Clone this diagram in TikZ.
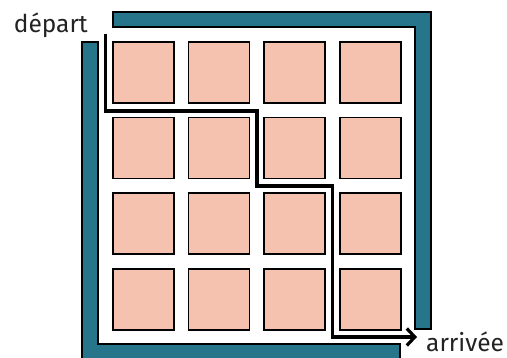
\documentclass[tikz,border=0pt]{standalone}
\usepackage{fontspec}
\setmainfont{Fira Sans}
\usetikzlibrary{arrows.meta}
\definecolor{wallc}{HTML}{27758A}
\definecolor{cellc}{HTML}{F4C2AE}
\definecolor{txtc}{HTML}{222222}
\begin{document}
\begin{tikzpicture}[x=1pt,y=-1pt,
  wall/.style={fill=wallc,draw=black,line width=1.6pt},
  cell/.style={fill=cellc,draw=black,line width=1.6pt,minimum width=61pt,minimum height=61pt,inner sep=0pt,outer sep=0pt},
  route/.style={draw=black,line width=3.4pt,line join=miter},
  lbl/.style={font=\fontsize{24.5}{28}\selectfont,text=txtc,inner sep=0pt}]
\useasboundingbox (0,0) rectangle (507,358);
\clip (0,0) rectangle (507,358);
% walls
\draw[wall] (113,12) -- (431,12) -- (431,329) -- (415,329) -- (415,27) -- (113,27) -- cycle;
\draw[wall] (82,42) -- (98,42) -- (98,344) -- (400,344) -- (400,365) -- (82,365) -- cycle;
% cells
\foreach \i in {0,...,3}{
  \foreach \j in {0,...,3}{
    \node[cell,anchor=north west] (c\i\j) at ({113+75.6*\i},{42+75.6*\j}) {};
  }
}
% route
\coordinate (s) at (105.5,34);
\coordinate (p1) at (105.5,111);
\coordinate (p2) at (256.8,111);
\coordinate (p3) at (256.8,186);
\coordinate (p4) at (332.4,186);
\coordinate (p5) at (332.4,337);
\coordinate (e) at (417,337);
\draw[route,-{Straight Barb[length=8pt,width=17pt,line width=3.2pt]}] (s) -- (p1) -- (p2) -- (p3) -- (p4) -- (p5) -- (e);
% labels
\node[lbl,anchor=base east] (dep) at (88,33) {départ};
\node[lbl,anchor=base west] (arr) at (426,352) {arrivée};
\end{tikzpicture}
\end{document}
